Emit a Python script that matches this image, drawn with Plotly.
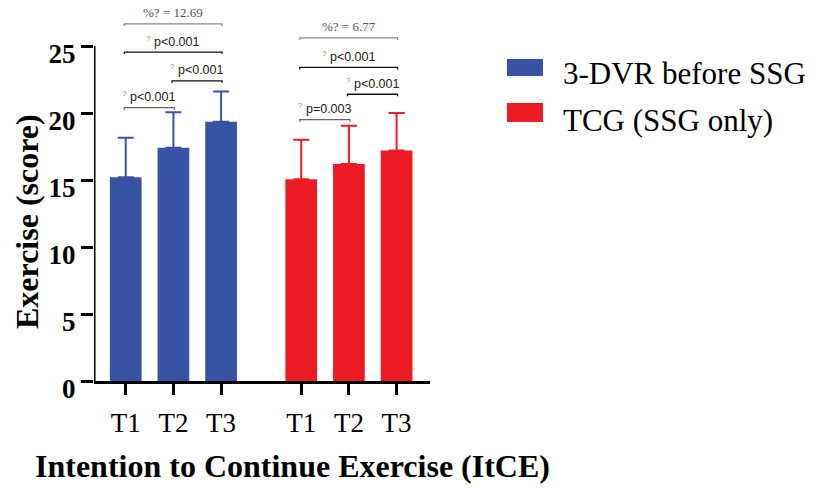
import plotly.graph_objects as go

# ---------------- data ----------------
categories = ["T1", "T2", "T3"]
group_names = ["3-DVR before SSG", "TCG (SSG only)"]
blue_means = [15.2, 17.4, 19.35]
blue_err = [2.95, 2.65, 2.25]
red_means = [15.05, 16.2, 17.2]
red_err = [2.95, 2.85, 2.8]

# comparisons: (first index, second index, label, height in score units)
blue_brackets = [(0, 1, "p<0.001", 20.4), (1, 2, "p<0.001", 22.4),
                 (0, 2, "p<0.001", 24.55)]
blue_top = (0, 2, "%? = 12.69", 26.65)
red_brackets = [(0, 1, "p=0.003", 19.5), (1, 2, "p<0.001", 21.4),
                (0, 2, "p<0.001", 23.4)]
red_top = (0, 2, "%? = 6.77", 25.6)

y_ticks = [0, 5, 10, 15, 20, 25]

# ---------------- layout constants ----------------
BLUE = "#3953A4"
RED = "#ED1C24"
W, H = 815, 488
ML, MR, MT, MB = 94, 385, 5, 107
RED_OFFSET = 3.68
x_blue = [i + 1 for i in range(len(categories))]
x_red = [i + 1 + RED_OFFSET for i in range(len(categories))]
XR = [0.335, 7.38]
YR = [0, 28.06]
SERIF = "Liberation Serif, Times New Roman, serif"

def px(x):
    return (x - ML) / (W - ML - MR)

def py(y):
    return (H - MB - y) / (H - MT - MB)

fig = go.Figure()
for xs, means, errs, col, name in [(x_blue, blue_means, blue_err, BLUE, group_names[0]),
                                   (x_red, red_means, red_err, RED, group_names[1])]:
    fig.add_trace(go.Bar(
        x=xs, y=means, width=0.665, name=name,
        marker=dict(color=col, line=dict(width=0)),
        error_y=dict(type="data", array=errs, arrayminus=[0] * len(errs),
                     symmetric=False, color=col, thickness=2, width=8),
        showlegend=False,
    ))

annotations = []
shapes = []

def bracket(xs, item, color, textfont, sup):
    i, j, label, yv = item
    x0 = xs[i] - 0.03
    x1 = xs[j] + 0.02
    fig.add_trace(go.Scatter(
        x=[x0, x0, x1, x1], y=[yv - 0.15, yv, yv, yv - 0.15], mode="lines",
        line=dict(color=color, width=1.3), showlegend=False, hoverinfo="skip"))
    txt = label
    if sup:
        txt = "<sup><span style='font-size:8px;color:#888888'>?</span></sup> " + label
    annotations.append(dict(x=(x0 + x1) / 2, y=yv, xref="x", yref="y",
                            text=txt, showarrow=False, yanchor="middle",
                            yshift=11, font=textfont))

pfont = dict(family="Liberation Sans, Arial", size=12.5, color="#222222")
tfont = dict(family=SERIF, size=13, color="#555555")
for xs, brs, top in [(x_blue, blue_brackets, blue_top), (x_red, red_brackets, red_top)]:
    for k, b in enumerate(brs):
        col = "#666666" if k == 0 else "#111111"
        bracket(xs, b, col, pfont, True)
    bracket(xs, top, "#888888", tfont, False)

# y-axis line from 0 to 25 only
shapes.append(dict(type="line", xref="x", yref="y", x0=XR[0], x1=XR[0],
                   y0=0, y1=y_ticks[-1], line=dict(color="black", width=3)))

# manual legend
legend_items = [(BLUE, group_names[0], 59, 76, 74), (RED, group_names[1], 103, 122, 121)]
for col, name, y0, y1, yt in legend_items:
    shapes.append(dict(type="rect", xref="paper", yref="paper",
                       x0=px(507), x1=px(543), y0=py(y1), y1=py(y0),
                       fillcolor=col, line=dict(width=0)))
    annotations.append(dict(xref="paper", yref="paper", x=px(561), y=py(yt),
                            text=name, showarrow=False, xanchor="left", yanchor="middle",
                            font=dict(family=SERIF, size=31, color="black")))

# axis titles
annotations.append(dict(xref="paper", yref="paper", x=px(292), y=py(466),
                        text="<b>Intention to Continue Exercise (ItCE)</b>",
                        showarrow=False, xanchor="center", yanchor="middle",
                        font=dict(family=SERIF, size=32, color="black")))
annotations.append(dict(xref="paper", yref="paper", x=px(27), y=py(222),
                        text="<b>Exercise (score)</b>", textangle=-90,
                        showarrow=False, xanchor="center", yanchor="middle",
                        font=dict(family=SERIF, size=32, color="black")))

fig.update_layout(
    width=W, height=H,
    margin=dict(l=ML, r=MR, t=MT, b=MB),
    paper_bgcolor="white", plot_bgcolor="white",
    annotations=annotations, shapes=shapes,
    showlegend=False,
)
fig.update_xaxes(range=XR, tickvals=x_blue + x_red, ticktext=categories * 2,
                 showgrid=False, zeroline=False, showline=True, linecolor="black",
                 linewidth=3, ticks="outside", ticklen=11, tickwidth=3, tickcolor="black",
                 ticklabelstandoff=5,
                 tickfont=dict(family=SERIF, size=27, color="black"))
fig.update_yaxes(range=YR, tickvals=y_ticks, ticktext=[f"<b>{v}</b>" for v in y_ticks],
                 showgrid=False, zeroline=False, showline=False,
                 ticks="outside", ticklen=12, tickwidth=3, tickcolor="black",
                 ticklabelshift=8,
                 tickfont=dict(family=SERIF, size=27, color="black"))

fig.write_html("out.html", config={"displayModeBar": False},
               post_script="document.body.style.margin='0px';")
